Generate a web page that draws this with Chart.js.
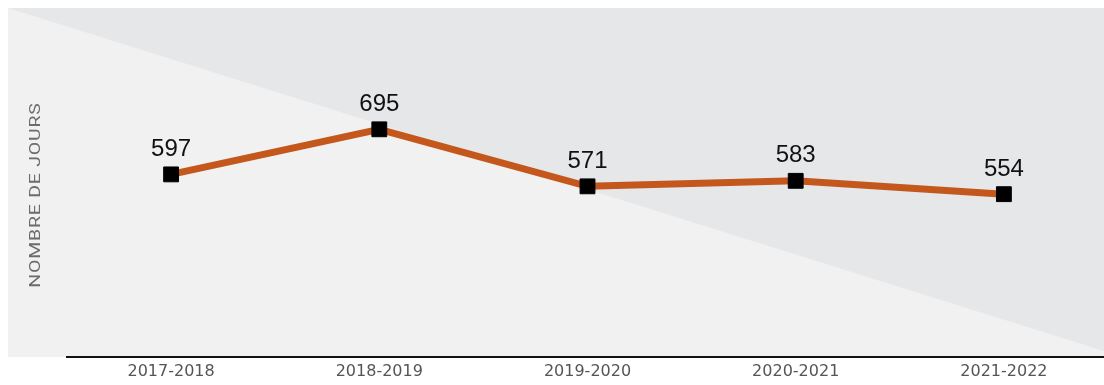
<!DOCTYPE html>
<html>
<head>
<meta charset="utf-8">
<script src="https://cdn.jsdelivr.net/npm/chart.js@4"></script>
<style>
  body { margin: 0; background: #fff; }
  #wrap { width: 1104px; height: 385px; }
</style>
</head>
<body>
<div id="wrap"><canvas id="joursChart"></canvas></div>
<script>
// data
const annees = ["2017-2018", "2018-2019", "2019-2020", "2020-2021", "2021-2022"];
const jours = [597, 695, 571, 583, 554];
const titreY = "NOMBRE DE JOURS";

const orange = "#c4581c";

// grey background with the darker diagonal wedge, plus the rotated y title
const decor = {
  id: "decor",
  afterLayout(chart) {
    // the original plot runs a little past the right edge
    const x = chart.scales.x;
    x.right += 4;
    x.width += 4;
    x.configure();
  },
  beforeDraw(chart) {
    const ctx = chart.ctx;
    const area = chart.chartArea;
    const w = chart.width;
    ctx.save();
    ctx.fillStyle = "#f1f1f1";
    ctx.fillRect(8, 8, w - 8, area.bottom - 8);
    ctx.fillStyle = "#e6e7e9";
    ctx.beginPath();
    ctx.moveTo(8, 8);
    ctx.lineTo(w, 8);
    ctx.lineTo(w, area.bottom - 6);
    ctx.closePath();
    ctx.fill();

    // title is drawn wide in the original
    ctx.translate(36, (area.top + area.bottom) / 2 - 1);
    ctx.rotate(-Math.PI / 2);
    ctx.scale(1.3, 1);
    ctx.font = "15px Roboto, 'Liberation Sans', sans-serif";
    ctx.letterSpacing = "0.6px";
    ctx.fillStyle = "#6c6c6c";
    ctx.textAlign = "center";
    ctx.textBaseline = "middle";
    ctx.fillText(titreY, 0, 0);
    ctx.restore();
  },
  afterDatasetsDraw(chart) {
    const ctx = chart.ctx;
    const meta = chart.getDatasetMeta(0);
    ctx.save();
    ctx.font = "24px 'Liberation Sans', Arial, sans-serif";
    ctx.fillStyle = "#111";
    ctx.textAlign = "center";
    ctx.textBaseline = "middle";
    meta.data.forEach(function (pt, i) {
      ctx.fillText(String(jours[i]), pt.x, pt.y - 25);
    });
    ctx.restore();
  }
};

new Chart("joursChart", {
  type: "line",
  data: {
    labels: annees,
    datasets: [
      {
        data: jours,
        borderColor: orange,
        borderWidth: 7,
        tension: 0,
        pointStyle: "rect",
        pointRadius: 10.5,
        pointBorderWidth: 1,
        pointBackgroundColor: "#000",
        pointBorderColor: "#000"
      }
    ]
  },
  options: {
    responsive: true,
    maintainAspectRatio: false,
    animation: false,
    layout: {
      autoPadding: false,
      padding: { left: 67, right: 0, top: 35, bottom: 0 }
    },
    plugins: {
      legend: { display: false },
      tooltip: { enabled: false }
    },
    scales: {
      x: {
        offset: true,
        grid: { display: false, drawTicks: false },
        border: { display: true, color: "#111", width: 2 },
        ticks: {
          color: "#555",
          padding: 5,
          font: { family: "'DejaVu Sans', sans-serif", size: 16 }
        },
        afterFit(scale) { scale.height = 28; }
      },
      y: {
        display: false,
        min: 200,
        max: 900
      }
    }
  },
  plugins: [decor]
});
</script>
</body>
</html>
